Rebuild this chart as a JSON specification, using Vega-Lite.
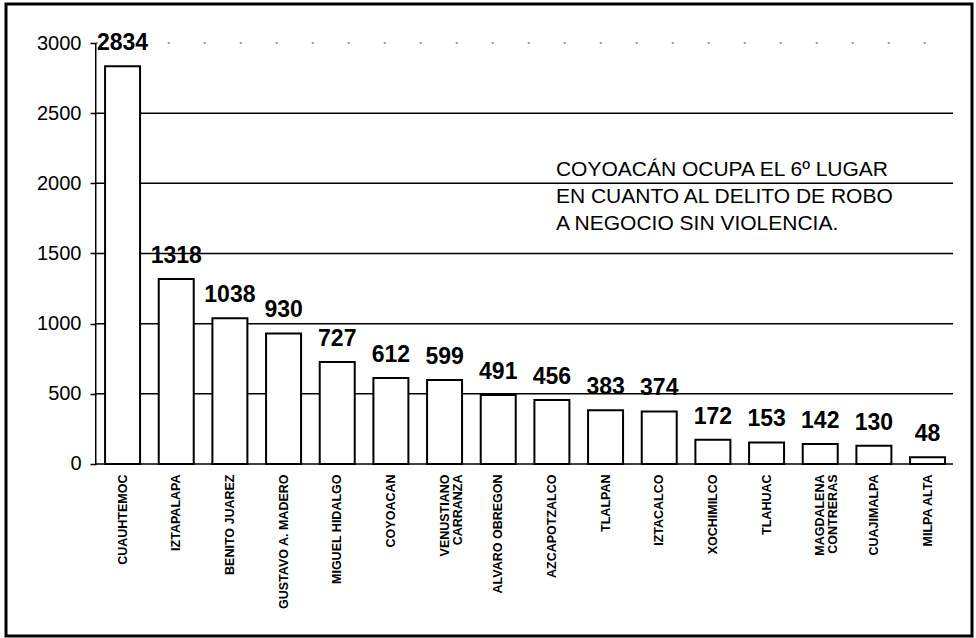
{
  "$schema": "https://vega.github.io/schema/vega-lite/v6.json",
  "width": 966,
  "height": 632,
  "autosize": "none",
  "padding": {"left": 6, "top": 4, "right": 4, "bottom": 2},
  "background": "white",
  "config": {
    "view": {"stroke": "black", "strokeWidth": 3},
    "font": "Liberation Sans"
  },
  "datasets": {
    "bars": [
      {"delegacion": "CUAUHTEMOC", "robos": 2834},
      {"delegacion": "IZTAPALAPA", "robos": 1318},
      {"delegacion": "BENITO JUAREZ", "robos": 1038},
      {"delegacion": "GUSTAVO A. MADERO", "robos": 930},
      {"delegacion": "MIGUEL HIDALGO", "robos": 727},
      {"delegacion": "COYOACAN", "robos": 612},
      {"delegacion": "VENUSTIANO|CARRANZA", "robos": 599},
      {"delegacion": "ALVARO OBREGON", "robos": 491},
      {"delegacion": "AZCAPOTZALCO", "robos": 456},
      {"delegacion": "TLALPAN", "robos": 383},
      {"delegacion": "IZTACALCO", "robos": 374},
      {"delegacion": "XOCHIMILCO", "robos": 172},
      {"delegacion": "TLAHUAC", "robos": 153},
      {"delegacion": "MAGDALENA|CONTRERAS", "robos": 142},
      {"delegacion": "CUAJIMALPA", "robos": 130},
      {"delegacion": "MILPA ALTA", "robos": 48}
    ],
    "grid": [
      {"nivel": 0},
      {"nivel": 500},
      {"nivel": 1000},
      {"nivel": 1500},
      {"nivel": 2000},
      {"nivel": 2500}
    ]
  },
  "layer": [
    {
      "data": {"name": "grid"},
      "mark": {"type": "rule", "color": "black", "strokeWidth": 1.5},
      "encoding": {
        "x": {"datum": "CUAUHTEMOC", "bandPosition": 0, "type": "nominal"},
        "x2": {"datum": "MILPA ALTA", "bandPosition": 0.975},
        "y": {"field": "nivel", "type": "quantitative"}
      }
    },
    {
      "data": {"values": [{"nivel": 3000}]},
      "mark": {"type": "rule", "color": "#777", "strokeWidth": 1.5, "strokeDash": [2, 34]},
      "encoding": {
        "x": {"datum": "CUAUHTEMOC", "bandPosition": 0, "type": "nominal"},
        "x2": {"datum": "MILPA ALTA", "bandPosition": 0.975},
        "y": {"field": "nivel", "type": "quantitative"}
      }
    },
    {
      "data": {"values": [{"a": 0, "b": 3000}]},
      "mark": {"type": "rule", "color": "black", "strokeWidth": 1.5},
      "encoding": {
        "x": {"datum": "CUAUHTEMOC", "bandPosition": 0, "type": "nominal"},
        "y": {"field": "a", "type": "quantitative"},
        "y2": {"field": "b"}
      }
    },
    {
      "data": {"name": "bars"},
      "mark": {"type": "bar", "fill": "white", "stroke": "black", "strokeWidth": 2, "width": {"band": 0.652}},
      "encoding": {
        "x": {
          "field": "delegacion",
          "type": "nominal",
          "sort": null,
          "scale": {
            "domain": ["CUAUHTEMOC", "IZTAPALAPA", "BENITO JUAREZ", "GUSTAVO A. MADERO", "MIGUEL HIDALGO", "COYOACAN", "VENUSTIANO|CARRANZA", "ALVARO OBREGON", "AZCAPOTZALCO", "TLALPAN", "IZTACALCO", "XOCHIMILCO", "TLAHUAC", "MAGDALENA|CONTRERAS", "CUAJIMALPA", "MILPA ALTA"],
            "paddingInner": 0, "paddingOuter": 1, "align": 0.836
          },
          "axis": {
            "title": null,
            "orient": "bottom",
            "offset": -172,
            "domain": false,
            "ticks": false,
            "labelAngle": 270,
            "labelAlign": "right",
            "labelBaseline": "middle",
            "labelPadding": 10,
            "labelFont": "Liberation Sans",
            "labelFontWeight": "bold",
            "labelFontSize": 12.5,
            "labelColor": "black",
            "labelLineHeight": 13,
            "labelExpr": "split(datum.label, '|')"
          }
        },
        "y": {
          "field": "robos",
          "type": "quantitative",
          "scale": {"domain": [-1226, 3278], "nice": false, "zero": false},
          "axis": {
            "title": null,
            "offset": -90,
            "domain": false,
            "grid": false,
            "values": [0, 500, 1000, 1500, 2000, 2500, 3000],
            "format": "d",
            "ticks": true,
            "tickSize": 6,
            "tickColor": "black",
            "tickWidth": 1.5,
            "labelPadding": 9,
            "labelFont": "Liberation Sans",
            "labelFontSize": 20,
            "labelColor": "black"
          }
        },
        "y2": {"datum": 0}
      }
    },
    {
      "data": {"name": "bars"},
      "mark": {"type": "text", "font": "Liberation Sans", "fontWeight": "bold", "fontSize": 23, "color": "black", "baseline": "alphabetic", "dy": -16},
      "encoding": {
        "x": {"field": "delegacion", "type": "nominal", "sort": null},
        "y": {"field": "robos", "type": "quantitative"},
        "text": {"field": "robos", "type": "quantitative", "format": "d"}
      }
    },
    {
      "data": {"values": [{"nota": ["COYOACÁN OCUPA EL 6º LUGAR", "EN CUANTO AL DELITO DE ROBO", "A NEGOCIO SIN VIOLENCIA."], "pos": "AZCAPOTZALCO", "nivel": 2052}]},
      "mark": {"type": "text", "font": "Liberation Sans", "fontSize": 21, "color": "black", "align": "left", "baseline": "alphabetic", "lineHeight": 27, "dx": 4},
      "encoding": {
        "x": {"field": "pos", "type": "nominal"},
        "y": {"field": "nivel", "type": "quantitative"},
        "text": {"field": "nota"}
      }
    }
  ]
}
